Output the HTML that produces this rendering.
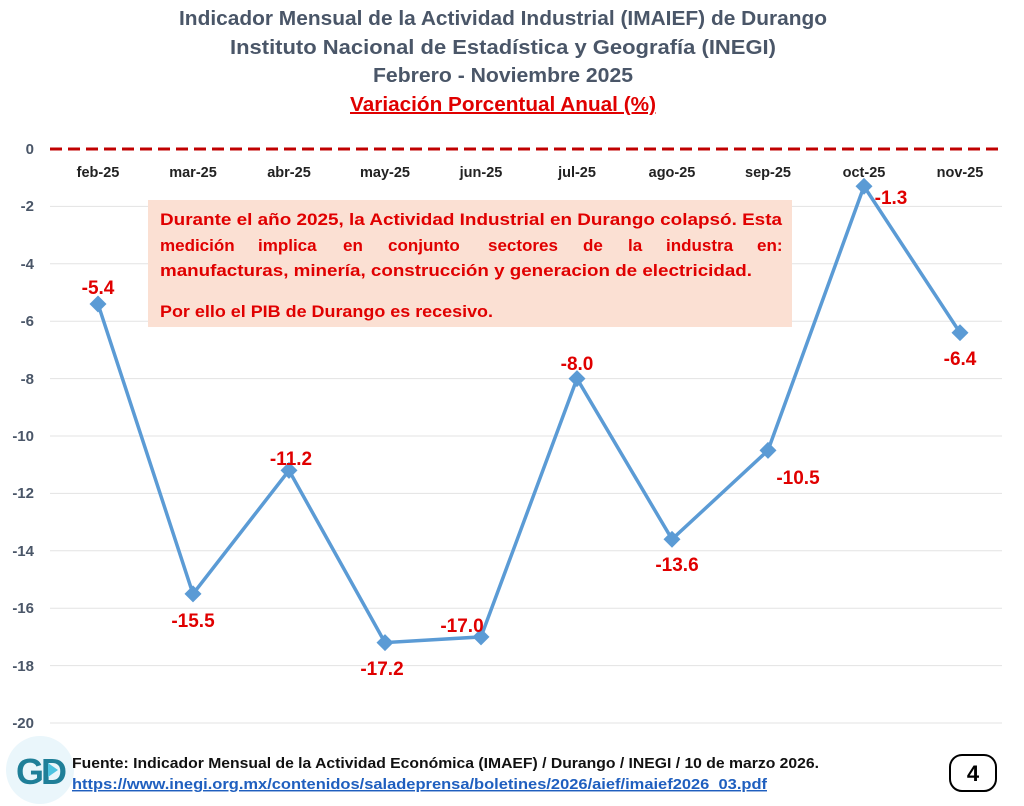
<!DOCTYPE html>
<html><head><meta charset="utf-8"><style>
body{margin:0;background:#fff;}
svg{display:block;font-family:"Liberation Sans",sans-serif;font-weight:bold;}
</style></head><body>
<svg width="1024" height="806" viewBox="0 0 1024 806">
<g text-anchor="middle" fill="#4a5668" font-size="20">
<text x="503" y="25" textLength="648" lengthAdjust="spacingAndGlyphs">Indicador Mensual de la Actividad Industrial (IMAIEF) de Durango</text>
<text x="503" y="54" textLength="546" lengthAdjust="spacingAndGlyphs">Instituto Nacional de Estadística y Geografía (INEGI)</text>
<text x="503" y="82" textLength="260" lengthAdjust="spacingAndGlyphs">Febrero - Noviembre 2025</text>
<text x="503" y="111" fill="#e00000" text-decoration="underline" textLength="306" lengthAdjust="spacingAndGlyphs">Variación Porcentual Anual (%)</text>
</g>
<g stroke="#e3e3e3" stroke-width="1">
<line x1="50" x2="1002" y1="206.4" y2="206.4"/><line x1="50" x2="1002" y1="263.8" y2="263.8"/>
<line x1="50" x2="1002" y1="321.2" y2="321.2"/><line x1="50" x2="1002" y1="378.6" y2="378.6"/>
<line x1="50" x2="1002" y1="436" y2="436"/><line x1="50" x2="1002" y1="493.4" y2="493.4"/>
<line x1="50" x2="1002" y1="550.8" y2="550.8"/><line x1="50" x2="1002" y1="608.2" y2="608.2"/>
<line x1="50" x2="1002" y1="665.6" y2="665.6"/><line x1="50" x2="1002" y1="723" y2="723"/>
</g>
<line x1="50" x2="1002" y1="149" y2="149" stroke="#c00000" stroke-width="3" stroke-dasharray="12,6"/>
<g text-anchor="end" fill="#4a5668" font-size="15">
<text x="34" y="154">0</text><text x="34" y="211">-2</text><text x="34" y="269">-4</text>
<text x="34" y="326">-6</text><text x="34" y="384">-8</text><text x="34" y="441">-10</text>
<text x="34" y="498">-12</text><text x="34" y="556">-14</text><text x="34" y="613">-16</text>
<text x="34" y="671">-18</text><text x="34" y="728">-20</text>
</g>
<g text-anchor="middle" fill="#222" font-size="14.5">
<text x="98" y="177">feb-25</text><text x="193" y="177">mar-25</text><text x="289" y="177">abr-25</text>
<text x="385" y="177">may-25</text><text x="481" y="177">jun-25</text><text x="577" y="177">jul-25</text>
<text x="672" y="177">ago-25</text><text x="768" y="177">sep-25</text><text x="864" y="177">oct-25</text>
<text x="960" y="177">nov-25</text>
</g>
<rect x="148" y="200" width="644" height="127" fill="#fbe0d3"/>
<g fill="#e00000" font-size="17">
<text x="160" y="225" textLength="622" lengthAdjust="spacingAndGlyphs">Durante el año 2025, la Actividad Industrial en Durango colapsó. Esta</text>
<text y="251"><tspan x="160">medición</tspan><tspan x="258">implica</tspan><tspan x="343">en</tspan><tspan x="388">conjunto</tspan><tspan x="488">sectores</tspan><tspan x="583">de</tspan><tspan x="628">la</tspan><tspan x="666">industra</tspan><tspan x="757">en:</tspan></text>
<text x="160" y="276" textLength="592" lengthAdjust="spacingAndGlyphs">manufacturas, minería, construcción y generacion de electricidad.</text>
<text x="160" y="317" textLength="333" lengthAdjust="spacingAndGlyphs">Por ello el PIB de Durango es recesivo.</text>
</g>
<polyline fill="none" stroke="#5b9bd5" stroke-width="3.5" points="98,304 193,593.9 289,470.4 385,642.6 481,636.9 577,378.6 672,539.3 768,450.4 864,186.3 960,332.7"/>
<g fill="#5b9bd5">
<rect x="-6" y="-6" width="12" height="12" transform="translate(98,304) rotate(45)"/>
<rect x="-6" y="-6" width="12" height="12" transform="translate(193,593.9) rotate(45)"/>
<rect x="-6" y="-6" width="12" height="12" transform="translate(289,470.4) rotate(45)"/>
<rect x="-6" y="-6" width="12" height="12" transform="translate(385,642.6) rotate(45)"/>
<rect x="-6" y="-6" width="12" height="12" transform="translate(481,636.9) rotate(45)"/>
<rect x="-6" y="-6" width="12" height="12" transform="translate(577,378.6) rotate(45)"/>
<rect x="-6" y="-6" width="12" height="12" transform="translate(672,539.3) rotate(45)"/>
<rect x="-6" y="-6" width="12" height="12" transform="translate(768,450.4) rotate(45)"/>
<rect x="-6" y="-6" width="12" height="12" transform="translate(864,186.3) rotate(45)"/>
<rect x="-6" y="-6" width="12" height="12" transform="translate(960,332.7) rotate(45)"/>
</g>
<g text-anchor="middle" fill="#e00000" font-size="19">
<text x="98" y="294">-5.4</text><text x="193" y="627">-15.5</text><text x="291" y="465">-11.2</text>
<text x="382" y="675">-17.2</text><text x="462" y="632">-17.0</text><text x="577" y="370">-8.0</text>
<text x="677" y="571">-13.6</text><text x="798" y="484">-10.5</text><text x="891" y="204">-1.3</text>
<text x="960" y="365">-6.4</text>
</g>
<circle cx="40" cy="770" r="34" fill="#eaf6fb"/>
<text x="40" y="784" text-anchor="middle" font-size="36" fill="#1f7f98" letter-spacing="-3">GD</text>
<polygon points="48,763 58,770 48,777" fill="#4ec3e0"/>
<text x="72" y="768" font-size="14.5" fill="#111" textLength="747" lengthAdjust="spacingAndGlyphs">Fuente: Indicador Mensual de la Actividad Económica (IMAEF) / Durango / INEGI / 10 de marzo 2026.</text>
<text x="72" y="789" font-size="14.5" fill="#1f5fbf" text-decoration="underline" textLength="695" lengthAdjust="spacingAndGlyphs">https://www.inegi.org.mx/contenidos/saladeprensa/boletines/2026/aief/imaief2026_03.pdf</text>
<rect x="950" y="755" width="46" height="36" rx="12" fill="#fff" stroke="#000" stroke-width="2"/>
<text x="973" y="781" text-anchor="middle" font-size="22" fill="#000">4</text>
</svg>
</body></html>
